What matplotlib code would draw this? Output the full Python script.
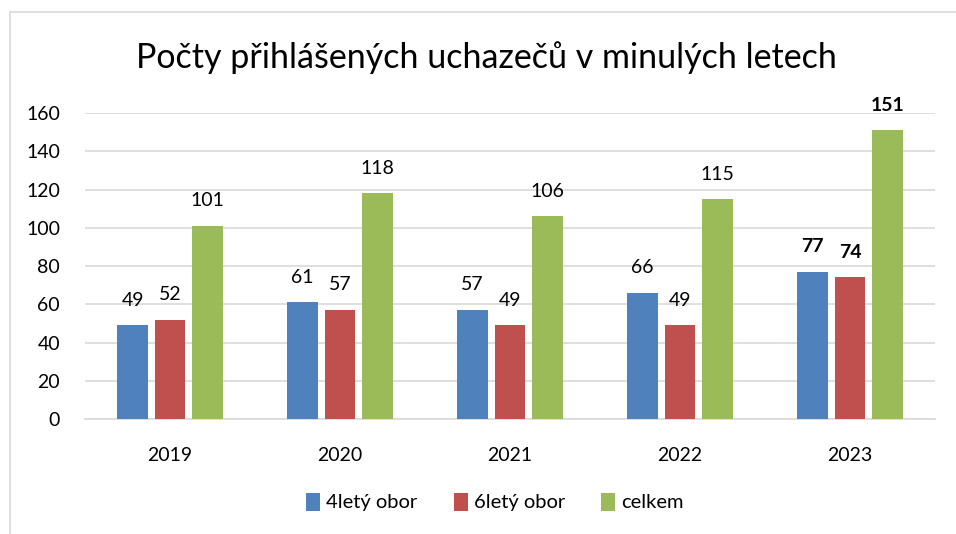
import numpy as np
import matplotlib.pyplot as plt
from matplotlib.lines import Line2D

plt.rcParams['font.family'] = ['Lato', 'DejaVu Sans']

years = ['2019', '2020', '2021', '2022', '2023']
ctyrlety = [49, 61, 57, 66, 77]
sestilety = [52, 57, 49, 49, 74]
celkem = [101, 118, 106, 115, 151]

series = [('4letý obor', ctyrlety, '#4F81BD'),
          ('6letý obor', sestilety, '#C0504D'),
          ('celkem', celkem, '#9BBB59')]

fig = plt.figure(figsize=(9.56, 5.34), dpi=100)
ax = fig.add_axes([85/956, 1-419/534, 850/956, 306/534])

# chart frame (left and top edges visible)
fig.add_artist(Line2D([10/956, 10/956], [0, 1-12/534], color='#D9D9D9', lw=1.2))
fig.add_artist(Line2D([10/956, 1], [1-12/534, 1-12/534], color='#D9D9D9', lw=1.2))

x = np.arange(len(years))
width = 0.18
offsets = [-0.22, 0, 0.22]
for (name, vals, col), off in zip(series, offsets):
    bars = ax.bar(x + off, vals, width, color=col, label=name, zorder=3)
    for i, (b, v) in enumerate(zip(bars, vals)):
        ax.annotate(str(v), (b.get_x() + b.get_width()/2, v), xytext=(0, 18),
                    textcoords='offset points', ha='center', va='center',
                    fontsize=14, fontweight='bold' if i == len(years)-1 else 'normal',
                    annotation_clip=False)

ax.set_xlim(-0.5, len(years) - 0.5)
ax.set_ylim(0, 160)
ax.set_yticks(range(0, 161, 20))
ax.set_xticks(x)
ax.set_xticklabels(years)
ax.yaxis.grid(True, color='#D9D9D9', lw=1.2, zorder=0)
ax.set_axisbelow(True)
for s in ['left', 'right', 'top']:
    ax.spines[s].set_visible(False)
ax.spines['bottom'].set_color('#D9D9D9')
ax.spines['bottom'].set_linewidth(1.2)
ax.tick_params(axis='both', length=0, labelsize=14)
ax.tick_params(axis='x', pad=20)
ax.tick_params(axis='y', pad=18)

fig.text(486/956, 1-58/534, 'Počty přihlášených uchazečů v minulých letech',
         ha='center', va='center', fontsize=24.5)

fig.legend(loc='center', bbox_to_anchor=(495/956, 1-502/534), ncol=3,
           frameon=False, fontsize=14.5, handlelength=0.7, handleheight=1.0,
           handletextpad=0.3, columnspacing=1.8)

fig.savefig('out.png', dpi=100)
